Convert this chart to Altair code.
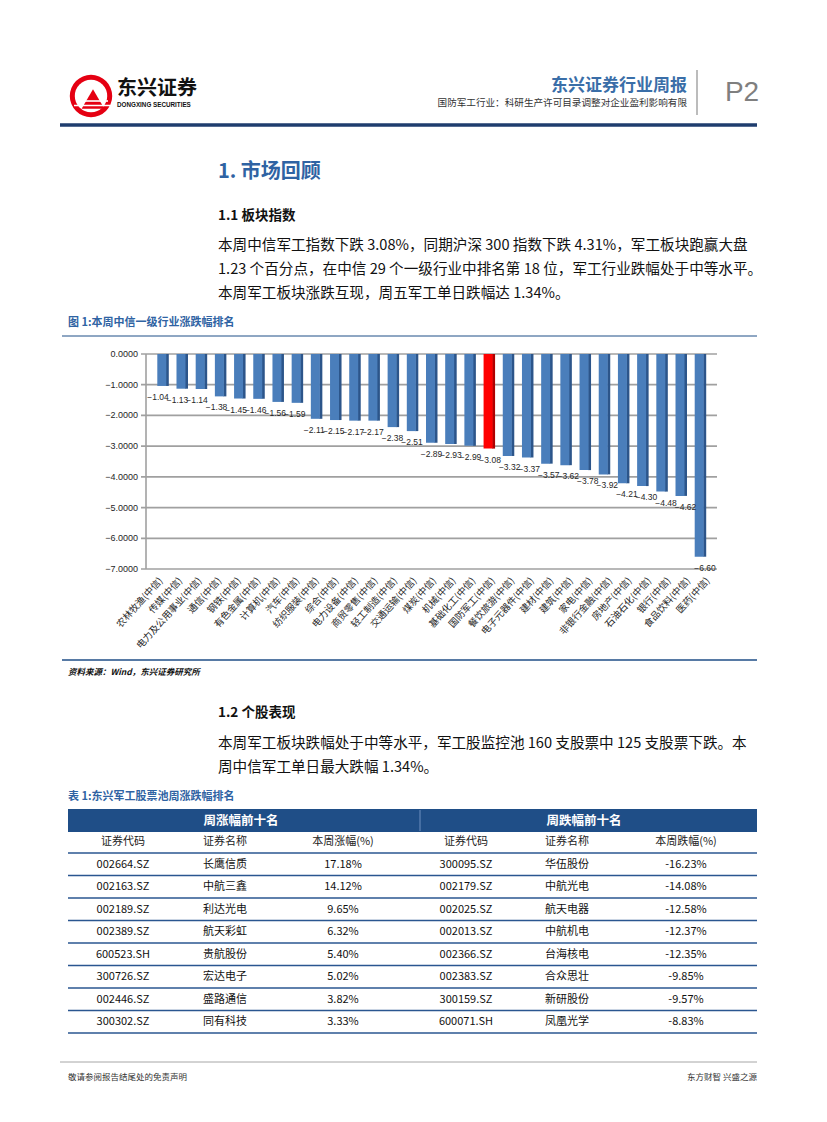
import altair as alt
import pandas as pd

FONT = "Noto Sans CJK SC"
M = 8  # page margin


def P(v):
    return v - M


# ---------------- data ----------------
categories = ["农林牧渔", "传媒", "电力及公用事业", "通信", "钢铁", "有色金属", "计算机", "汽车",
              "纺织服装", "综合", "电力设备", "商贸零售", "轻工制造", "交通运输", "煤炭", "机械",
              "基础化工", "国防军工", "餐饮旅游", "电子元器件", "建材", "建筑", "家电", "非银行金融",
              "房地产", "石油石化", "银行", "食品饮料", "医药"]
values = [-1.04, -1.13, -1.14, -1.38, -1.45, -1.46, -1.56, -1.59, -2.11, -2.15, -2.17, -2.17,
          -2.38, -2.51, -2.89, -2.93, -2.99, -3.08, -3.32, -3.37, -3.57, -3.62, -3.78, -3.92,
          -4.21, -4.30, -4.48, -4.62, -6.60]
highlight = "国防军工"
y_ticks = [0, -1, -2, -3, -4, -5, -6, -7]

gain_codes = ["002664.SZ", "002163.SZ", "002189.SZ", "002389.SZ", "600523.SH", "300726.SZ", "002446.SZ", "300302.SZ"]
gain_names = ["长鹰信质", "中航三鑫", "利达光电", "航天彩虹", "贵航股份", "宏达电子", "盛路通信", "同有科技"]
gain_pct = [17.18, 14.12, 9.65, 6.32, 5.40, 5.02, 3.82, 3.33]
loss_codes = ["300095.SZ", "002179.SZ", "002025.SZ", "002013.SZ", "002366.SZ", "002383.SZ", "300159.SZ", "600071.SH"]
loss_names = ["华伍股份", "中航光电", "航天电器", "中航机电", "台海核电", "合众思壮", "新研股份", "凤凰光学"]
loss_pct = [-16.23, -14.08, -12.58, -12.37, -12.35, -9.85, -9.57, -8.83]

para1 = ["本周中信军工指数下跌 3.08%，同期沪深 300 指数下跌 4.31%，军工板块跑赢大盘",
         "1.23 个百分点，在中信 29 个一级行业中排名第 18 位，军工行业跌幅处于中等水平。",
         "本周军工板块涨跌互现，周五军工单日跌幅达 1.34%。"]
para2 = ["本周军工板块跌幅处于中等水平，军工股监控池 160 支股票中 125 支股票下跌。本",
         "周中信军工单日最大跌幅 1.34%。"]

layers = []


def text(items, **kw):
    df = pd.DataFrame(items, columns=["px", "py", "t"])
    df["px"] = df["px"] - M
    df["py"] = df["py"] - M
    opts = dict(font=FONT, baseline="middle")
    opts.update(kw)
    return alt.Chart(df).mark_text(**opts).encode(
        x=alt.X("px:Q", scale=None, axis=None),
        y=alt.Y("py:Q", scale=None, axis=None),
        text="t:N",
    )


def rules(items, **kw):
    df = pd.DataFrame(items, columns=["x1", "y1", "x2", "y2"])
    for c in df.columns:
        df[c] = df[c] - M
    return alt.Chart(df).mark_rule(**kw).encode(
        x=alt.X("x1:Q", scale=None, axis=None),
        y=alt.Y("y1:Q", scale=None, axis=None),
        x2="x2:Q",
        y2="y2:Q",
    )


def rect(items, **kw):
    df = pd.DataFrame(items, columns=["x1", "y1", "x2", "y2"])
    for c in df.columns:
        df[c] = df[c] - M
    return alt.Chart(df).mark_rect(**kw).encode(
        x=alt.X("x1:Q", scale=None, axis=None),
        y=alt.Y("y1:Q", scale=None, axis=None),
        x2="x2:Q",
        y2="y2:Q",
    )


def dot(x, y, **kw):
    df = pd.DataFrame({"px": [x - M], "py": [y - M]})
    return alt.Chart(df).mark_point(**kw).encode(
        x=alt.X("px:Q", scale=None, axis=None),
        y=alt.Y("py:Q", scale=None, axis=None),
    )


RED = "#e50012"
BLUE_T = "#2f63a3"

# ---------------- header ----------------
layers.append(dot(91, 96, shape="circle", filled=True, size=1800, color=RED, opacity=1))
layers.append(dot(91, 96, shape="circle", filled=True, size=1050, color="white", opacity=1))
layers.append(dot(93, 99, shape="triangle-up", filled=True, size=520, color=RED, opacity=1))
layers.append(rules([(76, 101, 108, 101), (74, 105.5, 110, 105.5)], color="white", strokeWidth=1.6))
layers.append(text([(117, 89, "东兴证券")], fontSize=20, fontWeight="bold", color="#111111", align="left"))
layers.append(text([(117, 105, "DONGXING SECURITIES")], font="Liberation Sans", fontSize=6.3,
                   fontWeight="bold", color="#111111", align="left"))
layers.append(text([(687, 86, "东兴证券行业周报")], fontSize=17, fontWeight="bold", color="#3a6ea8", align="right"))
layers.append(text([(687, 103, "国防军工行业：科研生产许可目录调整对企业盈利影响有限")], fontSize=9.6,
                   color="#333333", align="right"))
layers.append(rules([(697, 70, 697, 115)], color="#a6a6a6", strokeWidth=1.5))
layers.append(text([(742, 93, "P2")], font="Liberation Sans", fontSize=28, color="#7f7f7f", align="center"))
layers.append(rules([(60, 125, 757, 125)], color="#1f3d6e", strokeWidth=3.5))

# ---------------- section 1 ----------------
layers.append(text([(218, 172, "1.  市场回顾")], fontSize=20, fontWeight="bold", color=BLUE_T, align="left"))
layers.append(text([(218, 216, "1.1 板块指数")], fontSize=13.5, fontWeight="bold", color="#111111", align="left"))
layers.append(text([(218, 246 + 24 * i, s) for i, s in enumerate(para1)], fontSize=14.6,
                   color="#111111", align="left"))
layers.append(text([(68, 323, "图 1:本周中信一级行业涨跌幅排名")], fontSize=11, fontWeight="bold",
                   color=BLUE_T, align="left"))
layers.append(rules([(62, 336, 757, 336)], color="#1f4e87", strokeWidth=1))

# ---------------- bar chart ----------------
bars_df = pd.DataFrame({"idx": list(range(len(categories))), "cat": categories, "val": values})
bars_df["lab"] = bars_df["cat"] + "(中信)"
bars_df["zero"] = 0.0
is_hl = [c == highlight for c in categories]
bars_df["front"] = ["#ff0000" if h else "#4a7ebb" for h in is_hl]
bars_df["side"] = ["#b00000" if h else "#2c558a" for h in is_hl]
bars_df["cap"] = ["#ff6060" if h else "#7ea7d8" for h in is_hl]
ticks_df = pd.DataFrame({"v": y_ticks})

BX = alt.Scale(domain=[-0.5, len(categories) - 0.5], range=[P(148.2), P(714.8)])
BY = alt.Scale(domain=[min(y_ticks), max(y_ticks)], range=[P(569), P(354)])
bx = alt.X("idx:Q", scale=BX, axis=None)

grid = alt.Chart(ticks_df).mark_rule(color="#a0a0a0", strokeWidth=1.7).encode(
    y=alt.Y("v:Q", scale=BY, axis=None), x=alt.value(P(141)), x2=alt.value(P(717)))
ylab = alt.Chart(ticks_df).mark_text(align="right", baseline="middle", font="Liberation Sans",
                                     fontSize=9, color="#262626").encode(
    y=alt.Y("v:Q", scale=BY, axis=None), x=alt.value(P(138)), text=alt.Text("v:Q", format=".4f"))
vaxis = alt.Chart(ticks_df).mark_rule(color="#a0a0a0", strokeWidth=1.6).encode(
    x=alt.value(P(146)), y=alt.Y("min(v):Q", scale=BY, axis=None), y2="max(v):Q")
front = alt.Chart(bars_df).mark_bar(width=9, xOffset=-1).encode(
    x=bx, y=alt.Y("val:Q", scale=BY, axis=None), y2="zero:Q", color=alt.Color("front:N", scale=None))
side = alt.Chart(bars_df).mark_bar(width=3, xOffset=4.5).encode(
    x=bx, y=alt.Y("val:Q", scale=BY, axis=None), y2="zero:Q", color=alt.Color("side:N", scale=None))
cap = alt.Chart(bars_df).mark_bar(width=11, xOffset=0.5).encode(
    x=bx, y=alt.Y("zero:Q", scale=BY, axis=None), y2=alt.value(P(351)), color=alt.Color("cap:N", scale=None))
vlab = alt.Chart(bars_df).mark_text(dy=11, fontSize=8.5, font="Liberation Sans", color="#262626",
                                    baseline="middle").encode(
    x=bx, y=alt.Y("val:Q", scale=BY, axis=None), text=alt.Text("val:Q", format=".2f"))
xlab = alt.Chart(bars_df).mark_text(angle=312, align="right", baseline="middle", fontSize=9.5,
                                    font=FONT, color="#262626", xOffset=3).encode(
    x=bx, y=alt.value(P(579)), text="lab:N")
layers += [grid, vaxis, ylab, side, front, cap, vlab, xlab]

# ---------------- source ----------------
layers.append(rules([(62, 660, 757, 660)], color="#1f4e87", strokeWidth=1.5))
layers.append(text([(68, 672, "资料来源：Wind，东兴证券研究所")], fontSize=8.5, fontWeight="bold",
                   fontStyle="italic", color="#111111", align="left"))

# ---------------- section 1.2 ----------------
layers.append(text([(218, 713, "1.2 个股表现")], fontSize=13.5, fontWeight="bold", color="#111111", align="left"))
layers.append(text([(218, 744 + 24 * i, s) for i, s in enumerate(para2)], fontSize=14.6,
                   color="#111111", align="left"))
layers.append(text([(68, 797, "表 1:东兴军工股票池周涨跌幅排名")], fontSize=11, fontWeight="bold",
                   color=BLUE_T, align="left"))

# ---------------- table ----------------
layers.append(rect([(68, 809, 757, 832)], color="#1f4e87"))
layers.append(rules([(420, 810, 420, 831)], color="#6f8fbf", strokeWidth=1))
layers.append(text([(241, 820.5, "周涨幅前十名"), (584, 820.5, "周跌幅前十名")], fontSize=12.5,
                   fontWeight="bold", color="white", align="center"))
col_x = [123, 225, 343, 466, 567, 686]
heads = ["证券代码", "证券名称", "本周涨幅(%)", "证券代码", "证券名称", "本周跌幅(%)"]
layers.append(text([(cx, 842, h) for cx, h in zip(col_x, heads)], fontSize=11, color="#222222", align="center"))
row_h = 22.5
line_y = [853 + row_h * i for i in range(len(gain_codes) + 1)]
layers.append(rules([(68, ly, 757, ly) for ly in line_y], color="#2a5690", strokeWidth=1.4))
cells = []
for i in range(len(gain_codes)):
    yy = 864.5 + row_h * i
    row = [gain_codes[i], gain_names[i], f"{gain_pct[i]:.2f}%",
           loss_codes[i], loss_names[i], f"{loss_pct[i]:.2f}%"]
    for cx, v in zip(col_x, row):
        cells.append((cx, yy, v))
layers.append(text(cells, fontSize=11, color="#111111", align="center"))

# ---------------- footer ----------------
layers.append(rules([(60, 1062, 757, 1062)], color="#a6a6a6", strokeWidth=1))
layers.append(text([(68, 1077, "敬请参阅报告结尾处的免责声明")], fontSize=8.5, color="#333333", align="left"))
layers.append(text([(757, 1077, "东方财智 兴盛之源")], fontSize=8.5, color="#333333", align="right"))

chart = alt.layer(*layers).resolve_scale(x="independent", y="independent").properties(
    width=811, height=1106, autosize=alt.AutoSizeParams(type="none"), padding=0,
    background="white",
).configure_view(stroke=None)

chart.save("out.html", embed_options={"renderer": "svg", "actions": False})
